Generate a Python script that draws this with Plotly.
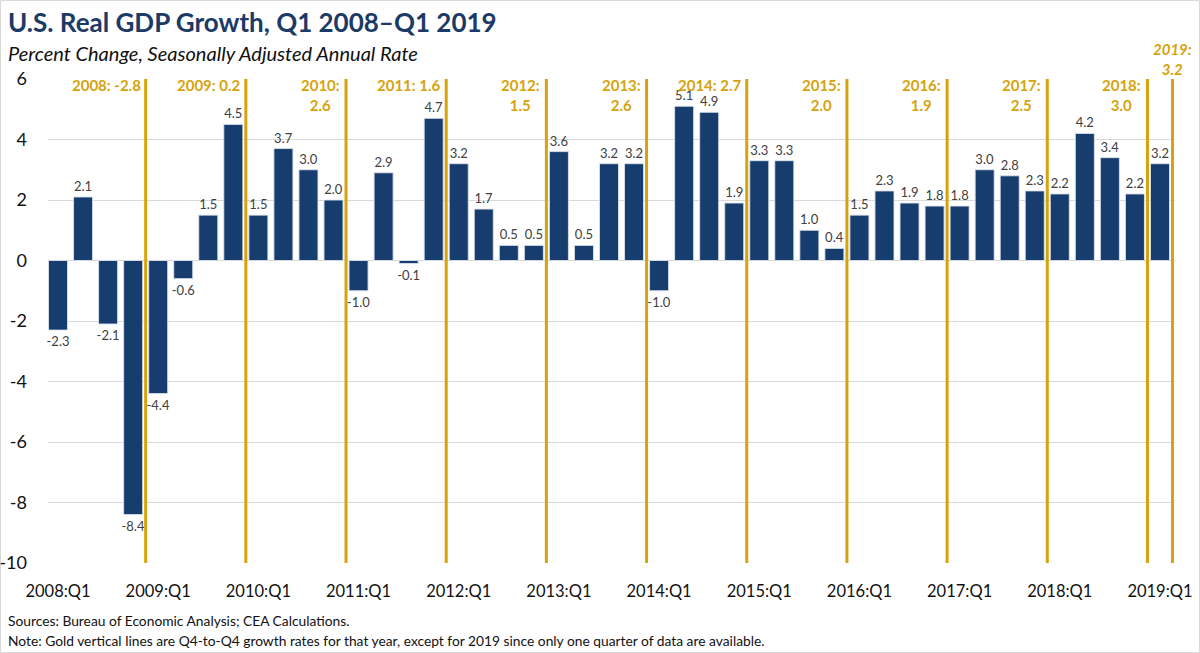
import plotly.graph_objects as go

# ---------------- data ----------------
years = [2008, 2009, 2010, 2011, 2012, 2013, 2014, 2015, 2016, 2017, 2018, 2019]
gdp_growth = [
    -2.3, 2.1, -2.1, -8.4,   # 2008
    -4.4, -0.6, 1.5, 4.5,    # 2009
    1.5, 3.7, 3.0, 2.0,      # 2010
    -1.0, 2.9, -0.1, 4.7,    # 2011
    3.2, 1.7, 0.5, 0.5,      # 2012
    3.6, 0.5, 3.2, 3.2,      # 2013
    -1.0, 5.1, 4.9, 1.9,     # 2014
    3.3, 3.3, 1.0, 0.4,      # 2015
    1.5, 2.3, 1.9, 1.8,      # 2016
    1.8, 3.0, 2.8, 2.3,      # 2017
    2.2, 4.2, 3.4, 2.2,      # 2018
    3.2,                     # 2019
]
q4_to_q4 = [-2.8, 0.2, 2.6, 1.6, 1.5, 2.6, 2.7, 2.0, 1.9, 2.5, 3.0, 3.2]
single_line_label = [True, True, False, True, False, False, True, False, False, False, False, False]
quarter_labels = [f"{y}:Q{q}" for y in years for q in range(1, 5)][:len(gdp_growth)]
y_ticks = [6, 4, 2, 0, -2, -4, -6, -8, -10]

# ---------------- style ----------------
NAVY = "#173d6e"
GOLD = "#d6a30c"
FONT = "Lato"
W, H = 1200, 653
L, R, T, B = 48, 25, 79, 90
PW, PH = W - L - R, H - T - B

def xp(px):
    return (px - L) / PW

def yp(py):
    return 1 - (py - T) / PH

x_idx = list(range(len(gdp_growth)))

fig = go.Figure()
fig.add_trace(go.Bar(
    x=x_idx,
    y=gdp_growth,
    width=0.76,
    marker=dict(color=NAVY, line=dict(color="rgba(220,226,235,0.9)", width=1)),
    text=[f"{v:.1f}" for v in gdp_growth],
    textposition="outside",
    constraintext="none",
    textfont=dict(family=FONT, size=13, color="#404040"),
    cliponaxis=False,
    hoverinfo="skip",
))

shapes = []
annotations = []
for k, yr in enumerate(years):
    last_q = min(4 * k + 3, len(gdp_growth) - 1)
    lx = last_q + 0.5
    shapes.append(dict(type="line", xref="x", yref="y", x0=lx, x1=lx,
                       y0=min(y_ticks), y1=max(y_ticks),
                       line=dict(color=GOLD, width=3), layer="above"))
    val = f"{q4_to_q4[k]:.1f}"
    if yr == years[-1]:
        annotations.append(dict(xref="x", yref="y", x=lx, y=max(y_ticks),
                                xanchor="center", yanchor="bottom", yshift=-1,
                                text=f"<b><i>{yr}:<br>{val}</i></b>", align="center",
                                showarrow=False,
                                font=dict(family=FONT, size=15, color=GOLD)))
    elif single_line_label[k]:
        annotations.append(dict(xref="x", yref="y", x=lx, y=max(y_ticks),
                                xanchor="right", yanchor="top", xshift=-3, yshift=5,
                                text=f"<b>{yr}: {val}</b>", showarrow=False,
                                font=dict(family=FONT, size=15, color=GOLD)))
    else:
        annotations.append(dict(xref="x", yref="y", x=lx, y=max(y_ticks),
                                xanchor="right", yanchor="top", xshift=-4, yshift=5,
                                text=f"<b>{yr}:<br>{val}</b>", align="center",
                                showarrow=False,
                                font=dict(family=FONT, size=15, color=GOLD)))

# titles and notes
annotations += [
    dict(xref="paper", yref="paper", x=xp(6), y=yp(22), xanchor="left", yanchor="middle",
         text="<b>U.S. Real GDP Growth, Q1 2008\u2013Q1 2019</b>", showarrow=False,
         font=dict(family=FONT, size=26, color="#1b3a66")),
    dict(xref="paper", yref="paper", x=xp(6), y=yp(53), xanchor="left", yanchor="middle",
         text="<i>Percent Change, Seasonally Adjusted Annual Rate</i>", showarrow=False,
         font=dict(family=FONT, size=20, color="#111111")),
    dict(xref="paper", yref="paper", x=xp(6), y=yp(620), xanchor="left", yanchor="middle",
         text="Sources: Bureau of Economic Analysis; CEA Calculations.", showarrow=False,
         font=dict(family=FONT, size=13.8, color="#111111")),
    dict(xref="paper", yref="paper", x=xp(6), y=yp(640), xanchor="left", yanchor="middle",
         text="Note: Gold vertical lines are Q4-to-Q4 growth rates for that year, except for 2019 since only one quarter of data are available.",
         showarrow=False, font=dict(family=FONT, size=13.8, color="#111111")),
]

# outer frame
shapes.append(dict(type="rect", xref="paper", yref="paper",
                   x0=xp(0.5), x1=xp(W - 0.5), y0=yp(H - 0.5), y1=yp(0.5),
                   line=dict(color="#d9d9d9", width=1), fillcolor="rgba(0,0,0,0)", layer="below"))

fig.update_layout(
    width=W, height=H,
    margin=dict(l=L, r=R, t=T, b=B, autoexpand=False),
    paper_bgcolor="white", plot_bgcolor="white",
    showlegend=False,
    shapes=shapes,
    annotations=annotations,
    font=dict(family=FONT, color="#111111"),
)
fig.update_xaxes(
    range=[-0.4, len(gdp_growth) - 0.4],
    tickvals=[i for i in x_idx if i % 4 == 0],
    ticktext=[quarter_labels[i] for i in x_idx if i % 4 == 0],
    tickfont=dict(family=FONT, size=16.5, color="#111111"),
    showgrid=False, zeroline=False, showline=False, ticks="",
    ticklabelstandoff=16, automargin=False,
)
fig.update_yaxes(
    range=[min(y_ticks), max(y_ticks)],
    tickvals=y_ticks,
    ticktext=[str(v) for v in y_ticks],
    tickfont=dict(family=FONT, size=18, color="#111111"),
    showgrid=True, gridcolor="#d9d9d9", gridwidth=1,
    zeroline=True, zerolinecolor="#d9d9d9", zerolinewidth=1,
    showline=False, ticks="",
    ticklabelstandoff=20, automargin=False,
)

fig.write_html("out.html", config={"displayModeBar": False},
               post_script="document.body.style.margin='0';document.body.style.overflow='hidden';")
